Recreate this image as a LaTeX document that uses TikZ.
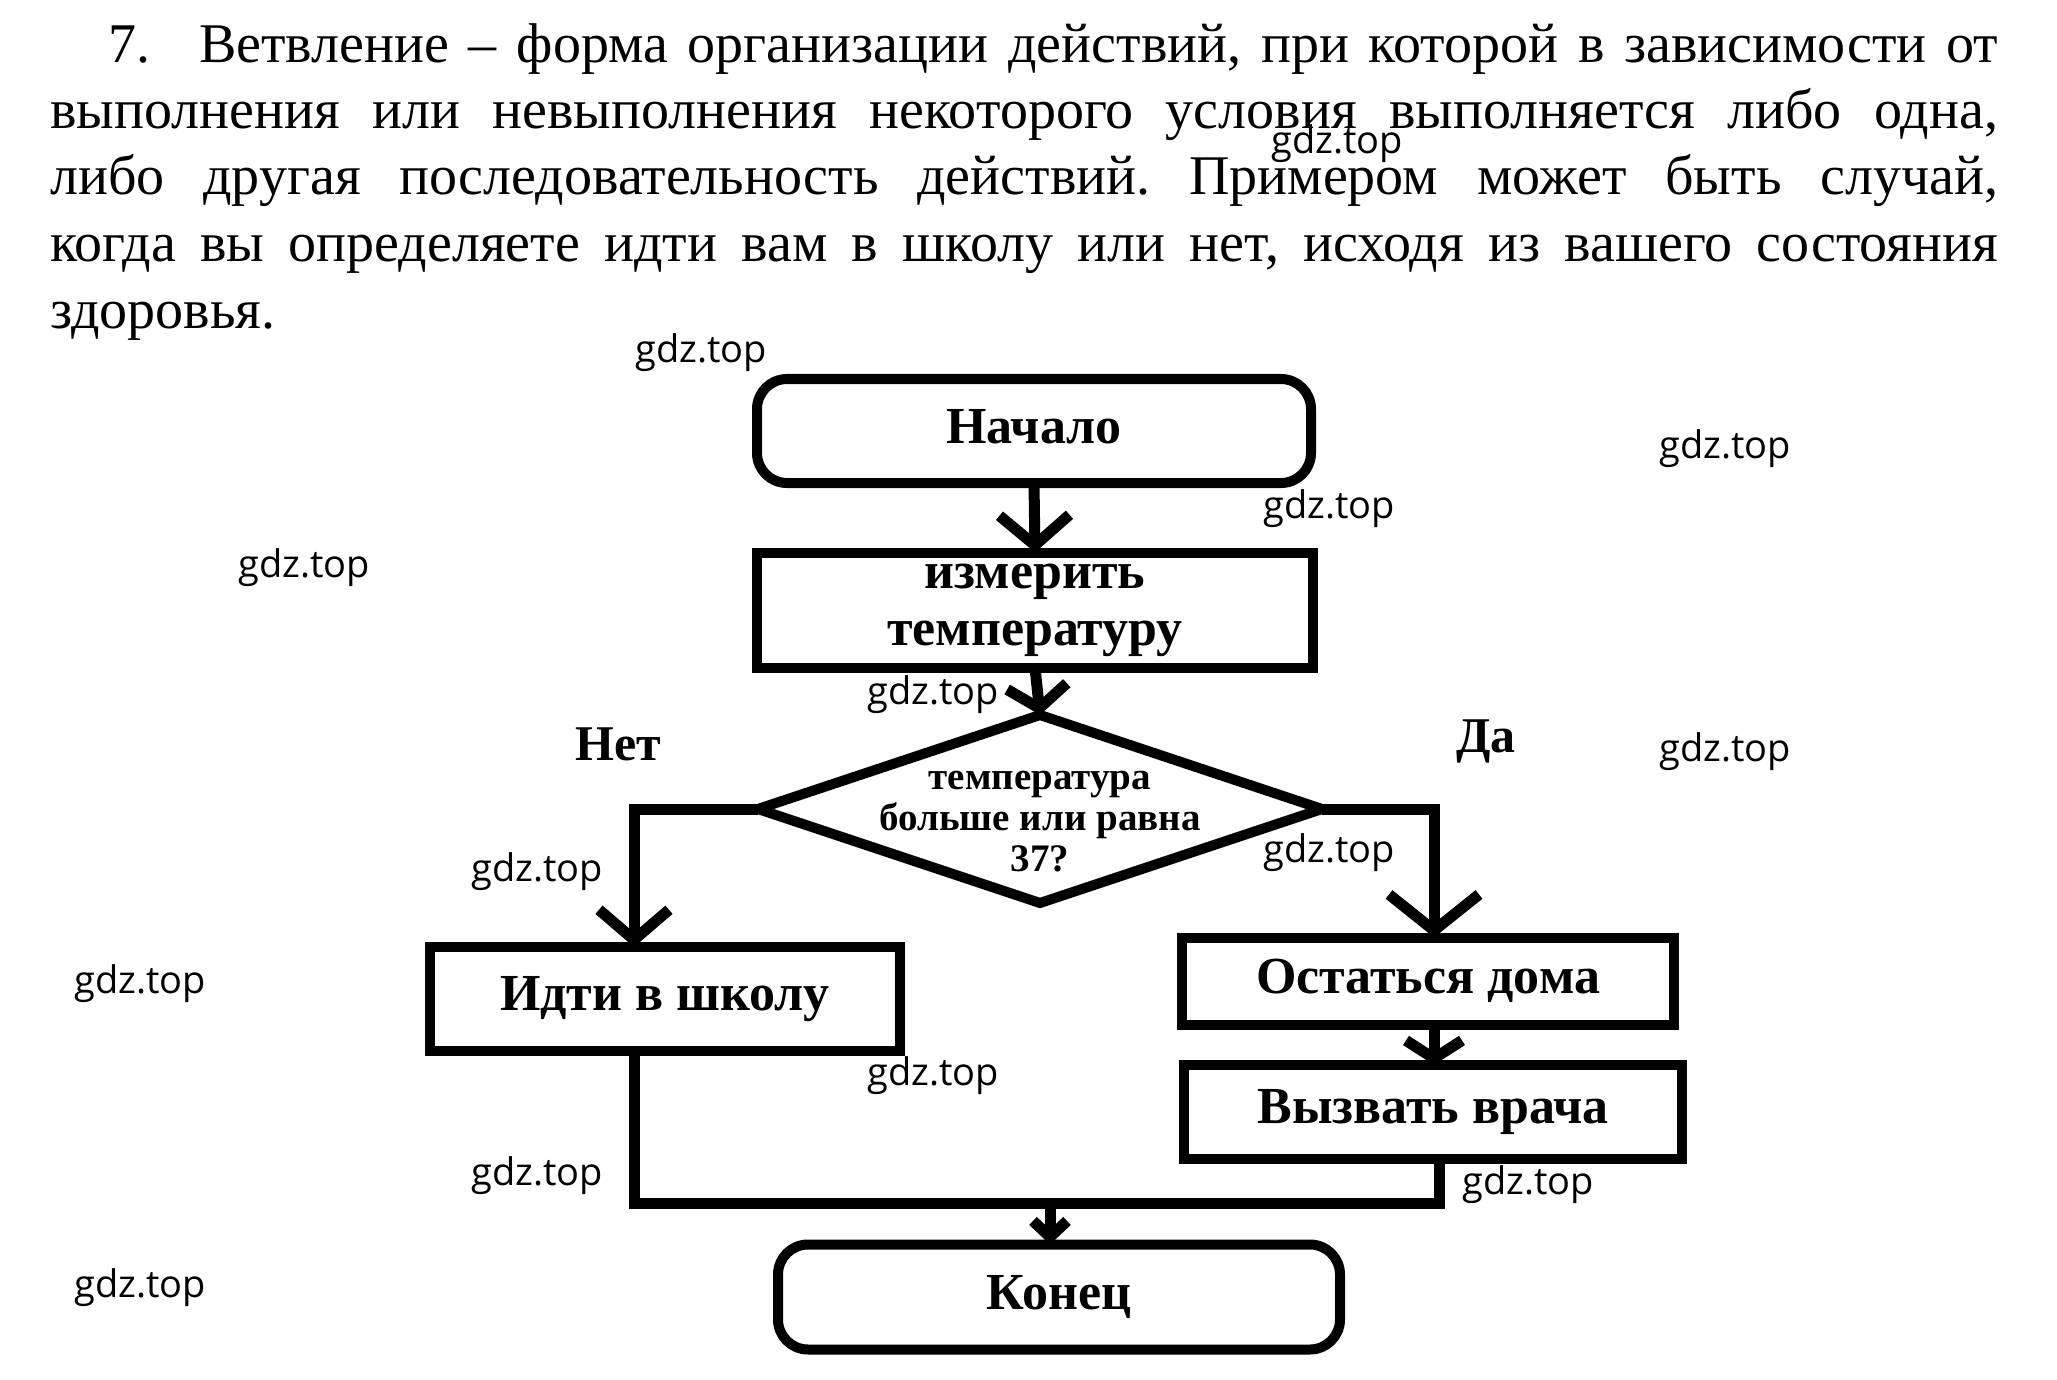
\documentclass[tikz,border=0pt]{standalone}
\usepackage{fontspec}
\setmainfont{Liberation Serif}
\newfontfamily\wmfont{Open Sans}
\usetikzlibrary{arrows.meta}
\frenchspacing
\begin{document}
\begin{tikzpicture}[x=1pt,y=-1pt,
  txt/.style={anchor=base west, inner sep=0, font=\fontsize{56}{67}\selectfont},
  blk/.style={draw, line width=10pt, inner sep=0, outer sep=0, align=center,
    font=\fontsize{52}{57}\selectfont\bfseries},
  term/.style={blk, rounded corners=30pt},
  conn/.style={line width=11pt},
  arr/.style={conn, -{Straight Barb[length=30pt,width=70pt]}},
  lbl/.style={inner sep=0, font=\fontsize{50}{57}\selectfont\bfseries},
  wmark/.style={inner sep=0, font=\wmfont\fontsize{38}{40}\selectfont}]
\useasboundingbox (0,0) rectangle (2057,1380);
% paragraph
\node[txt] (n7) at (108,63) {7.};
\node[txt] (l1) at (199,63) {\makebox[1799pt][s]{Ветвление – форма организации действий, при которой в зависимости от}};
\node[txt] (l2) at (50,129) {\makebox[1948pt][s]{выполнения или невыполнения некоторого условия выполняется либо одна,}};
\node[txt] (l3) at (50,195) {\makebox[1948pt][s]{либо другая последовательность действий. Примером может быть случай,}};
\node[txt] (l4) at (50,262) {\makebox[1948pt][s]{когда вы определяете идти вам в школу или нет, исходя из вашего состояния}};
\node[txt] (l5) at (50,329) {здоровья.};
% flowchart
\node[term, minimum width=554pt, minimum height=104pt] (nach) at (1034,431) {\raisebox{10pt}{Начало}};
\node[blk, minimum width=556pt, minimum height=115pt] (izm) at (1035,610) {измерить\\температуру};
\node[minimum width=564pt, minimum height=188pt, inner sep=0, outer sep=0] (dec) at (1040,809) {};
\node[inner sep=0, align=center, font=\fontsize{39}{41}\selectfont\bfseries] (dect) at (1040,822) {температура\\больше или равна\\37?};
\draw[line width=10pt, line join=miter] (dec.north) -- (dec.east) -- (dec.south) -- (dec.west) -- cycle;
\node[blk, minimum width=470pt, minimum height=104pt] (idti) at (665,999) {Идти в школу};
\node[blk, minimum width=492pt, minimum height=87pt] (ost) at (1428,981) {Остаться дома};
\node[blk, minimum width=498pt, minimum height=94pt] (vyz) at (1433,1112) {Вызвать врача};
\node[term, minimum width=562pt, minimum height=105pt] (kon) at (1059,1297) {Конец};
\node[lbl] (net) at (618,744) {Нет};
\node[lbl] (da) at (1486,741) {Да};
% connectors
\coordinate (lb) at (634,809);
\coordinate (rb) at (1434,809);
\coordinate (ml) at (634,1203);
\coordinate (mr) at (1439,1203);
\coordinate (mm) at (1050,1203);
\draw[arr] (nach.south) -- (izm.north);
\draw[arr, -{Straight Barb[length=22pt,width=60pt]}] (izm.south) -- (dec.north);
\draw[arr] (dec.west) -- (lb) -- (lb |- idti.north);
\draw[arr, -{Straight Barb[length=36pt,width=90pt]}] (dec.east) -- (rb) -- (rb |- ost.north);
\draw[arr, -{Straight Barb[length=18pt,width=56pt]}] (ost.south -| rb) -- (vyz.north -| rb);
\draw[conn] (idti.south -| ml) -- (ml) -- (mr) -- (mr |- vyz.south);
\draw[arr, -{Straight Barb[length=16pt,width=34pt]}] (mm) -- (mm |- kon.north);
% watermarks
\node[wmark] (w1) at (1337,144) {gdz.top};
\node[wmark] (w2) at (701,353) {gdz.top};
\node[wmark] (w3) at (1725,449) {gdz.top};
\node[wmark] (w4) at (1329,509) {gdz.top};
\node[wmark] (w5) at (304,568) {gdz.top};
\node[wmark] (w6) at (933,695) {gdz.top};
\node[wmark] (w7) at (1725,752) {gdz.top};
\node[wmark] (w8) at (537,872) {gdz.top};
\node[wmark] (w9) at (1329,853) {gdz.top};
\node[wmark] (w10) at (140,984) {gdz.top};
\node[wmark] (w11) at (933,1076) {gdz.top};
\node[wmark] (w12) at (537,1176) {gdz.top};
\node[wmark] (w13) at (1528,1185) {gdz.top};
\node[wmark] (w14) at (140,1288) {gdz.top};
\end{tikzpicture}
\end{document}
